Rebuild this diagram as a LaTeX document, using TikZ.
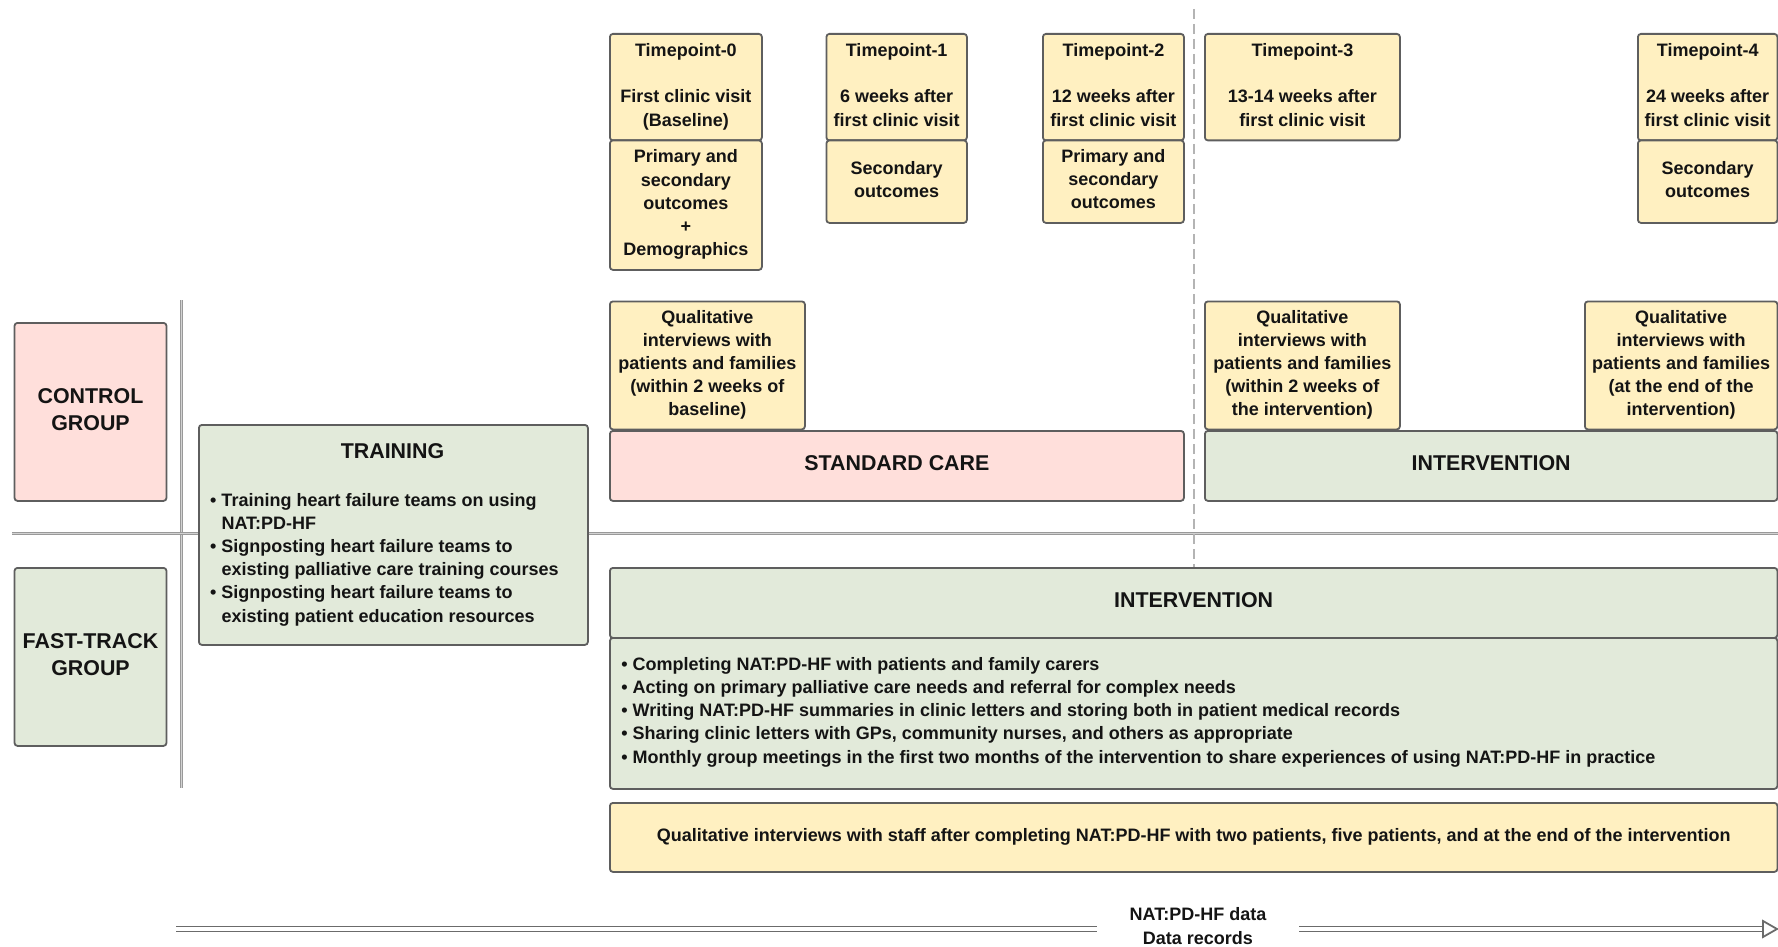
\documentclass[tikz,border=0pt]{standalone}
\usepackage{fontspec}
\setmainfont{Liberation Sans}
\usetikzlibrary{calc}

\definecolor{yel}{HTML}{FFF0C1}
\definecolor{pnk}{HTML}{FFDFDB}
\definecolor{grn}{HTML}{E2EADA}
\definecolor{edge}{HTML}{5E5E5E}
\definecolor{sepout}{HTML}{999999}
\definecolor{sepin}{HTML}{D2D2D2}
\definecolor{axis}{HTML}{6B6B6B}
\definecolor{dash}{HTML}{B4B4B4}
\definecolor{ink}{HTML}{141414}

\newcommand\bxfont{\fontsize{9}{11.6}\selectfont\bfseries}
\newcommand\ttlfont{\fontsize{10.7}{13.5}\selectfont\bfseries}
% fixed ascent/descent so every label block is centred the same way
\newcommand\hs{\rule{0pt}{0.78em}}
\newcommand\ds{\rule[-0.32em]{0pt}{0.32em}}

\begin{document}
\begin{tikzpicture}[x=0.5pt,y=-0.5pt,
  cell/.style={draw=edge, line width=0.9pt, rounded corners=1.5pt, inner sep=0pt,
    anchor=north west, align=center, font=\bxfont, text=ink},
  ttl/.style={font=\ttlfont, text=ink, align=center, inner sep=0pt},
  lst/.style={font=\bxfont, text=ink, align=left, inner sep=0pt, anchor=west},
  sep/.style={draw=sepout, line width=0.55pt, double=sepin, double distance=0.75pt},
  dashline/.style={draw=dash, line width=0.75pt, dash pattern=on 5pt off 2.5pt},
  axisline/.style={draw=axis, line width=0.85pt, double=white, double distance=1.65pt}
]
\useasboundingbox (0,0) rectangle (1778,947);

% dividers between the two arms and the timeline
\draw[sep] (181.5,300) -- (181.5,788);
\draw[sep] (12,533.5) -- (1778,533.5);

% timepoints
\node[cell, fill=yel, minimum width=76pt, minimum height=53.25pt] (tp0) at (609,33)
  {\hs Timepoint-0\\[11.6pt]First clinic visit\\(Baseline)\ds};
\node[cell, fill=yel, minimum width=76pt, minimum height=64.75pt] (out0) at (609,139.5)
  {\hs Primary and\\secondary\\outcomes\\+\\Demographics\ds};
\node[cell, fill=yel, minimum width=70.25pt, minimum height=53.25pt] (tp1) at (825.5,33)
  {\hs Timepoint-1\\[11.6pt]6 weeks after\\first clinic visit\ds};
\node[cell, fill=yel, minimum width=70.25pt, minimum height=41.25pt] (out1) at (825.5,139.5)
  {\hs Secondary\\outcomes\ds};
\node[cell, fill=yel, minimum width=70.5pt, minimum height=53.25pt] (tp2) at (1042,33)
  {\hs Timepoint-2\\[11.6pt]12 weeks after\\first clinic visit\ds};
\node[cell, fill=yel, minimum width=70.5pt, minimum height=41.25pt] (out2) at (1042,139.5)
  {\hs Primary and\\secondary\\outcomes\ds};
\node[cell, fill=yel, minimum width=97.5pt, minimum height=53.25pt] (tp3) at (1204,33)
  {\hs Timepoint-3\\[11.6pt]13-14 weeks after\\first clinic visit\ds};
\node[cell, fill=yel, minimum width=69.75pt, minimum height=53.25pt] (tp4) at (1637,33)
  {\hs Timepoint-4\\[11.6pt]24 weeks after\\first clinic visit\ds};
\node[cell, fill=yel, minimum width=69.75pt, minimum height=41.25pt] (out4) at (1637,139.5)
  {\hs Secondary\\outcomes\ds};

% dashed marker where the control arm switches to the intervention
\coordinate (dtop) at (1194,9);
\coordinate (dbot) at (1194,567);
\draw[dashline] (dtop) -- (dbot);

% group labels
\node[cell, fill=pnk, minimum width=76pt, minimum height=89pt, font=\ttlfont] (ctrl) at (13.6,322)
  {\hs CONTROL\\GROUP\ds};
\node[cell, fill=grn, minimum width=76pt, minimum height=89pt, font=\ttlfont] (fast) at (13.6,567)
  {\hs FAST-TRACK\\GROUP\ds};

% training
\node[cell, fill=grn, minimum width=194.5pt, minimum height=110pt] (train) at (198,424) {};
\node[ttl] (trainttl) at (392.5,451.3) {TRAINING};
\node[lst] (trainlst) at (209.8,559.5)
  {\textbullet\ Training heart failure teams on using\\
   \hphantom{\textbullet\ }NAT:PD-HF\\
   \textbullet\ Signposting heart failure teams to\\
   \hphantom{\textbullet\ }existing palliative care training courses\\
   \textbullet\ Signposting heart failure teams to\\
   \hphantom{\textbullet\ }existing patient education resources};

% control arm
\node[cell, fill=yel, minimum width=97.5pt, minimum height=64pt] (q0) at (609,300.5)
  {\hs Qualitative\\interviews with\\patients and families\\(within 2 weeks of\\baseline)\ds};
\node[cell, fill=pnk, minimum width=287pt, minimum height=35pt, font=\ttlfont] (std) at (609,430)
  {\hs STANDARD CARE\ds};
\node[cell, fill=yel, minimum width=97.5pt, minimum height=64pt] (q3) at (1204,300.5)
  {\hs Qualitative\\interviews with\\patients and families\\(within 2 weeks of\\the intervention)\ds};
\node[cell, fill=yel, minimum width=96.25pt, minimum height=64pt] (q4) at (1584,300.5)
  {\hs Qualitative\\interviews with\\patients and families\\(at the end of the\\intervention)\ds};
\node[cell, fill=grn, minimum width=286.25pt, minimum height=35pt, font=\ttlfont] (intv) at (1204,430)
  {\hs INTERVENTION\ds};

% fast-track arm
\node[cell, fill=grn, minimum width=583.75pt, minimum height=35pt, font=\ttlfont] (fhead) at (609,567)
  {\hs INTERVENTION\ds};
\node[cell, fill=grn, minimum width=583.75pt, minimum height=75.5pt] (fbody) at (609,637) {};
\node[lst] (flst) at (621,712)
  {\textbullet\ Completing NAT:PD-HF with patients and family carers\\
   \textbullet\ Acting on primary palliative care needs and referral for complex needs\\
   \textbullet\ Writing NAT:PD-HF summaries in clinic letters and storing both in patient medical records\\
   \textbullet\ Sharing clinic letters with GPs, community nurses, and others as appropriate\\
   \textbullet\ Monthly group meetings in the first two months of the intervention to share experiences of using NAT:PD-HF in practice};
\node[cell, fill=yel, minimum width=583.75pt, minimum height=34.5pt] (staff) at (609,802)
  {\hs Qualitative interviews with staff after completing NAT:PD-HF with two patients, five patients, and at the end of the intervention\ds};

% timeline
\coordinate (tstart) at (176,929);
\coordinate (tend) at (1763,929);
\node[font=\bxfont, text=ink, align=center, inner sep=0pt, minimum width=101pt] (tlabel) at (1198,926)
  {NAT:PD-HF data\\Data records};
\draw[axisline] (tstart) -- (tlabel.west |- tstart);
\draw[axisline] (tlabel.east |- tend) -- (tend);
\draw[draw=axis, line width=0.9pt, fill=white, line join=miter] (tend) ++(0,-8) -- ++(14,8) -- ++(-14,8) -- cycle;
\end{tikzpicture}
\end{document}
